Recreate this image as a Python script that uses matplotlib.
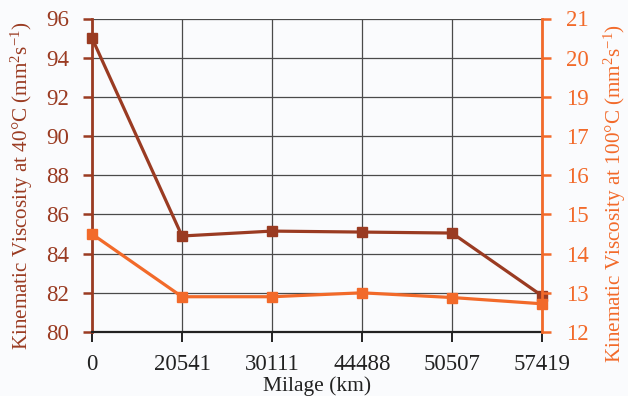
import matplotlib
matplotlib.use('Agg')
from matplotlib import pyplot as plt

plt.rcParams['font.family'] = 'Liberation Serif'
plt.rcParams['mathtext.fontset'] = 'custom'
plt.rcParams['mathtext.rm'] = 'Liberation Serif'
plt.rcParams['mathtext.it'] = 'Liberation Serif:italic'

# mileage samples (km) and viscosity readings
milage = ['0', '20541', '30111', '44488', '50507', '57419']
visc_40 = [95.0, 84.9, 85.15, 85.1, 85.05, 81.85]
visc_100 = [14.5, 12.9, 12.9, 13.0, 12.88, 12.72]

left_ticks = [80, 82, 84, 86, 88, 90, 92, 94, 96]
right_ticks = [12, 13, 14, 15, 16, 17, 18, 19, 20]
right_ticklabels = ['12', '13', '14', '15', '16', '17', '19', '20', '21']

dark = '#9a3b22'
orange = '#f26a2a'
bg = '#fafbfd'

fig = plt.figure(figsize=(6.28, 3.96), dpi=100, facecolor=bg)
ax1 = fig.add_axes([92/628, 1 - 332/396, (542-92)/628, (332-18.5)/396])
ax1.set_facecolor(bg)
ax2 = ax1.twinx()

x = list(range(len(milage)))

ax1.plot(x, visc_40, color=dark, lw=2.3, marker='s', ms=7.5, zorder=5, clip_on=False)
ax2.plot(x, visc_100, color=orange, lw=2.3, marker='s', ms=7.5, zorder=5, clip_on=False)

ax1.set_xlim(0, 5)
ax1.set_xticks(x)
ax1.set_xticklabels(milage)
ax1.set_ylim(80, 96)
ax1.set_yticks(left_ticks)
ax2.set_ylim(12, 20)
ax2.set_yticks(right_ticks)
ax2.set_yticklabels(right_ticklabels)

ax1.grid(True, color='#4a4a4a', lw=0.9)
ax1.set_axisbelow(True)

ax1.spines['top'].set_visible(False)
ax2.spines['top'].set_visible(False)
ax2.spines['left'].set_visible(False)
ax2.spines['bottom'].set_visible(False)
ax1.spines['right'].set_visible(False)
ax1.spines['left'].set_color(dark)
ax1.spines['left'].set_linewidth(2)
ax2.spines['right'].set_color(orange)
ax2.spines['right'].set_linewidth(2)
ax1.spines['bottom'].set_color('#222222')
ax1.spines['bottom'].set_linewidth(1.6)

ax1.tick_params(axis='y', colors=dark, labelsize=16.5, length=6.5, width=1.8, direction='out', pad=10)
ax1.tick_params(axis='x', colors='#222222', labelsize=16.5, length=7, width=1.4, direction='out', pad=9)
ax2.tick_params(axis='y', colors=orange, labelsize=16.5, length=6.5, width=1.8, direction='out', pad=11)

ax1.set_xlabel('Milage (km)', fontsize=15.5, color='#222222', labelpad=1)
ax1.set_ylabel(r'Kinematic Viscosity at 40°C (mm$^2$s$^{-1}$)', fontsize=15.2, color=dark,
               labelpad=8, y=0.466)
ax2.set_ylabel(r'Kinematic Viscosity at 100°C (mm$^2$s$^{-1}$)', fontsize=15.2, color=orange,
               labelpad=9, y=0.443)

fig.savefig('out.png', dpi=100, facecolor=bg)
